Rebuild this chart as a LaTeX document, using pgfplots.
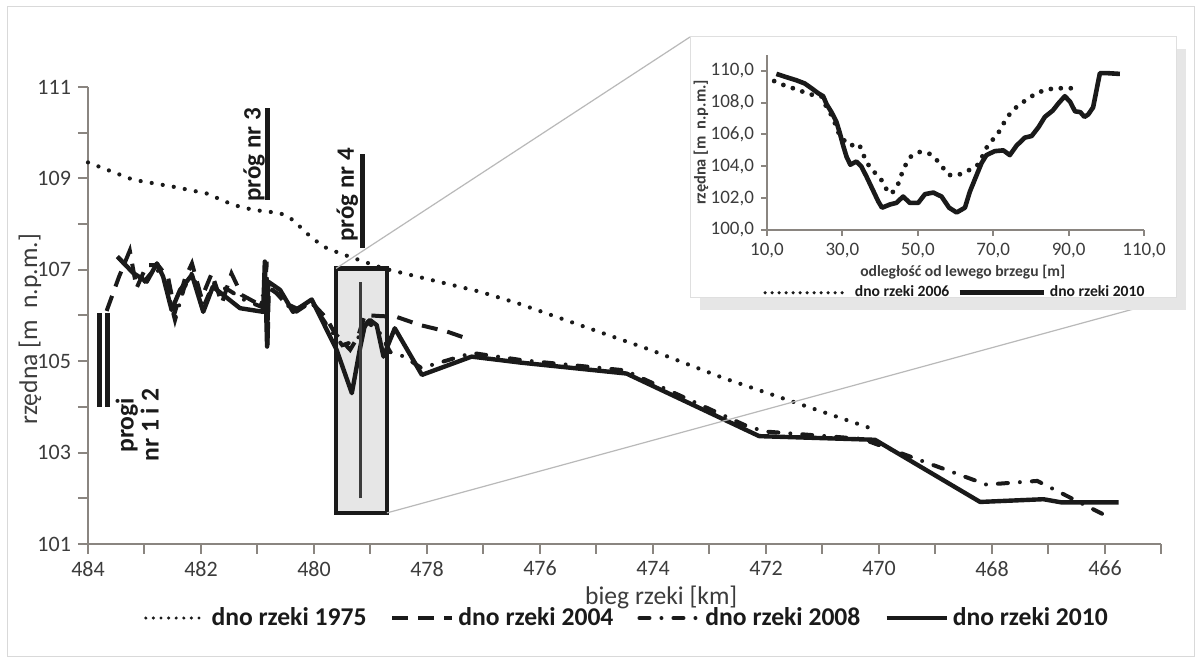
\documentclass[border=0pt]{standalone}
\usepackage{fontspec}
\setmainfont{Carlito}
\usepackage{pgfplots}
\pgfplotsset{compat=1.18}

\definecolor{axgray}{HTML}{8A8580}
\definecolor{txtgray}{HTML}{3C3C3C}
\definecolor{ink}{HTML}{1A1A1A}
\definecolor{boxfill}{HTML}{E6E6E6}

\pgfplotsset{
  s1975/.style={ink, line width=2.1pt, line cap=round, dash pattern=on 0pt off 5.6pt},
  s2004/.style={ink, line width=2pt, dash pattern=on 8pt off 5pt},
  s2008/.style={ink, line width=2pt, line cap=round, dash pattern=on 5pt off 6pt on 0pt off 6pt},
  s2010/.style={ink, line width=2.2pt, line join=round},
}

\begin{document}
\begin{tikzpicture}
\fill[white] (0,0) rectangle (600.5pt,332pt);
\draw[gray!30, line width=0.5pt] (3.5pt,3.5pt) rectangle (597pt,328.5pt);

% main profile
\begin{axis}[
  at={(44pt,60pt)}, anchor=south west,
  scale only axis, width=536.75pt, height=228.5pt,
  x dir=reverse, xmin=465, xmax=484, ymin=101, ymax=111,
  axis x line*=bottom, axis y line*=left,
  axis line style={axgray, line width=1pt, -},
  xtick={466,468,...,484}, minor xtick={465,467,...,483},
  ytick={101,103,...,111}, minor ytick={102,104,...,110},
  tick align=outside, major tick length=5pt, minor tick length=5pt,
  tick style={axgray, line width=1pt},
  /pgf/number format/assume math mode=true,
  tick label style={font=\fontsize{11}{12}\selectfont, text=txtgray},
  xlabel={bieg rzeki [km]},
  xlabel style={at={(axis description cs:0.534,-0.116)}, anchor=center,
                font=\fontsize{12.8}{14}\selectfont, text=txtgray},
  ylabel={rzędna [m\ \ n.p.m.]},
  ylabel style={at={(axis description cs:-0.054,0.47)}, anchor=center,
                font=\fontsize{12.8}{14}\selectfont, text=txtgray},
  legend style={at={(axis description cs:0.503,-0.162)}, anchor=center,
                draw=none, fill=none, legend columns=4,
                font=\bfseries\fontsize{12.8}{14}\selectfont, text=ink,
                /tikz/every even column/.append style={column sep=10pt}},
  legend image code/.code={\draw[#1] (0pt,0pt) -- (30pt,0pt);},
  clip=false,
]
% box around the cross-section site
\addplot[forget plot, fill=boxfill, draw=none] coordinates {
  (479.61,101.68) (478.71,101.68) (478.71,107.03) (479.61,107.03)} -- cycle;

% weirs
\addplot[forget plot, ink, line width=2.4pt] coordinates {(483.79,104.0) (483.79,106.05)};
\addplot[forget plot, ink, line width=2.4pt] coordinates {(483.65,104.0) (483.65,106.05)};
\addplot[forget plot, ink, line width=2.4pt] coordinates {(480.82,108.53) (480.82,110.54)};
\addplot[forget plot, ink, line width=2.4pt] coordinates {(479.14,107.48) (479.14,109.53)};

\addplot[s1975, legend image code/.code={\draw[ink, line width=1.7pt, line cap=round, dash pattern=on 0pt off 3.8pt] (0pt,0pt) -- (30pt,0pt);}] coordinates {
  (484.0,109.35) (483.2,108.97) (482.5,108.82) (481.9,108.67) (481.43,108.42)
  (481.07,108.31) (480.6,108.24) (480.37,108.09) (480.13,107.80) (479.84,107.51)
  (479.54,107.36) (479.19,107.21) (478.77,107.03) (477.06,106.52) (476.4,106.27)
  (474.05,105.25) (472.75,104.63) (470.14,103.53)};
\addlegendentry{dno rzeki 1975}

\addplot[s2004] coordinates {
  (483.67,106.10) (483.45,106.85) (483.26,107.42) (483.14,106.60) (482.96,107.10)
  (482.76,107.10) (482.58,106.82) (482.46,106.08) (482.28,106.82) (482.16,107.14)
  (481.99,106.38) (481.81,106.92) (481.63,106.27) (481.46,106.92) (481.28,106.45)
  (481.01,106.27) (480.86,106.49) (480.84,107.18) (480.82,105.32) (480.80,106.60)
  (480.66,106.49) (480.51,106.27) (480.30,106.15) (480.05,106.30) (479.78,105.94)
  (479.63,105.61) (479.36,105.25) (479.22,105.54) (479.10,106.01) (478.86,105.99)
  (478.54,105.97) (478.12,105.79) (477.65,105.65) (477.21,105.46)};
\addlegendentry{dno rzeki 2004}

\addplot[s2008] coordinates {
  (483.45,107.25) (483.22,106.95) (483.0,106.75) (482.8,107.05) (482.62,106.70)
  (482.46,105.90) (482.3,106.60) (482.15,106.95) (481.97,106.15) (481.78,106.70)
  (481.5,106.55) (481.25,106.35) (480.95,106.20) (480.8,106.65) (480.55,106.35)
  (480.35,106.05) (480.05,106.30) (479.75,105.75) (479.5,105.35) (479.25,105.45)
  (479.05,105.85) (478.85,105.65) (478.65,105.20) (478.4,105.10) (478.1,104.85)
  (477.2,105.18) (476.3,105.02) (474.5,104.80) (472.32,103.57) (472.0,103.46)
  (470.3,103.30) (468.1,102.30) (467.2,102.38) (466.0,101.63)};
\addlegendentry{dno rzeki 2008}

\addplot[s2010] coordinates {
  (483.48,107.29) (483.20,106.93) (482.96,106.74) (482.78,107.14) (482.67,106.85)
  (482.52,106.12) (482.37,106.56) (482.16,106.89) (481.96,106.08) (481.79,106.63)
  (481.31,106.16) (480.90,106.08) (480.87,107.18) (480.83,105.32) (480.81,106.74)
  (480.60,106.56) (480.37,106.08) (480.04,106.35) (479.60,105.25) (479.33,104.30)
  (479.19,105.25) (479.10,105.79) (479.01,105.90) (478.89,105.79) (478.77,105.10)
  (478.70,105.32) (478.57,105.72) (478.09,104.70) (477.21,105.10) (476.35,104.97)
  (474.47,104.73) (472.12,103.36) (470.07,103.28) (468.21,101.92) (467.09,101.98)
  (466.77,101.91) (465.76,101.91)};
\addlegendentry{dno rzeki 2010}

% cross-section line and box outline
\addplot[forget plot, ink!85, line width=1.5pt] coordinates {(479.17,102.0) (479.17,106.74)};
\addplot[forget plot, ink, line width=2.2pt] coordinates {
  (479.61,101.68) (478.71,101.68) (478.71,107.03) (479.61,107.03)} -- cycle;

\node[rotate=90, font=\bfseries\fontsize{12.5}{13}\selectfont, text=ink] at (axis cs:481.06,109.51) {próg nr 3};
\node[rotate=90, font=\bfseries\fontsize{12.5}{13}\selectfont, text=ink] at (axis cs:479.41,108.64) {próg nr 4};
\node[rotate=90, align=center, font=\bfseries\fontsize{12.8}{12.5}\selectfont, text=ink] at (axis cs:483.13,103.6) {progi\\nr 1 i 2};

\coordinate (rtl) at (axis cs:479.61,107.03);
\coordinate (rbr) at (axis cs:478.71,101.68);
\end{axis}

\draw[gray!55, line width=0.6pt] (rtl) -- (345pt,313.5pt);
\draw[gray!55, line width=0.6pt] (rbr) -- (587pt,183pt);

% inset frame
\fill[boxfill] (350pt,307.5pt) rectangle (593pt,177pt);
\filldraw[fill=white, draw=gray!25, line width=0.5pt] (345pt,313.5pt) rectangle (588pt,183pt);

% inset cross-section
\begin{axis}[
  at={(383.5pt,217pt)}, anchor=south west,
  scale only axis, width=188.5pt, height=87.6pt,
  xmin=10, xmax=110, ymin=100, ymax=111,
  axis x line*=bottom, axis y line*=left,
  axis line style={axgray, line width=1pt, -},
  xtick={10,30,...,110}, ytick={100,102,...,110},
  tick align=outside, major tick length=3pt,
  tick style={axgray, line width=1pt},
  /pgf/number format/assume math mode=true,
  /pgf/number format/.cd, fixed, fixed zerofill, precision=1, use comma, /pgfplots/.cd,
  tick label style={font=\fontsize{9.5}{10}\selectfont, text=txtgray},
  xlabel={odległość od lewego brzegu [m]},
  xlabel style={at={(axis description cs:0.519,-0.239)}, anchor=center,
                font=\bfseries\fontsize{7.8}{9}\selectfont, text=txtgray},
  ylabel={rzędna [m\ \ n.p.m.]},
  ylabel style={at={(axis description cs:-0.175,0.50)}, anchor=center,
                font=\bfseries\fontsize{8.2}{9}\selectfont, text=txtgray},
  legend style={at={(axis description cs:0.501,-0.358)}, anchor=center,
                draw=none, fill=none, legend columns=2,
                font=\bfseries\fontsize{7.8}{9}\selectfont, text=ink,
                /tikz/every even column/.append style={column sep=2pt}},
  legend image code/.code={\draw[#1] (0pt,0pt) -- (42pt,0pt);},
  clip=false,
]
\addplot[ink, line width=2.4pt, line cap=round, dash pattern=on 0pt off 5pt,
  legend image code/.code={\draw[ink, line width=1.8pt, line cap=round, dash pattern=on 0pt off 3.5pt] (0pt,0pt) -- (42pt,0pt);}]
  coordinates {
  (11.9,109.35) (14.4,109.1) (16.9,108.9) (19.3,108.7) (21.8,108.5) (24.4,108.4)
  (25.8,107.7) (27.1,107.2) (28.2,106.6) (29.3,105.9) (31.9,105.3) (34.4,105.4)
  (35.3,104.9) (36.2,104.35) (37.7,103.8) (39.5,103.4) (41.1,102.9) (42.1,102.3)
  (43.5,102.4) (44.8,102.9) (45.7,103.5) (46.8,104.1) (48.1,104.6) (50.4,104.9)
  (53.0,104.8) (55.0,104.4) (56.7,103.9) (58.3,103.45) (60.7,103.45) (63.1,103.7)
  (65.6,104.0) (66.9,104.5) (67.8,105.0) (69.1,105.5) (70.9,105.9) (72.2,106.45)
  (73.5,107.0) (75.1,107.5) (77.1,107.9) (79.3,108.25) (81.5,108.6) (84.0,108.8)
  (86.4,108.9) (89.0,108.9) (91.7,108.9)};
\addlegendentry{dno rzeki 2006}
\addplot[ink, line width=2.3pt, line join=round] coordinates {
  (12.5,109.8) (15.1,109.6) (17.8,109.4) (20.0,109.2) (21.8,108.9) (23.5,108.6)
  (24.9,108.4) (25.8,107.9) (27.1,107.4) (28.4,106.8) (29.3,106.1) (30.2,105.3)
  (31.1,104.6) (32.1,104.1) (33.7,104.3) (35.0,104.0) (36.4,103.35) (38.1,102.5)
  (39.5,101.8) (40.5,101.4) (42.6,101.6) (44.3,101.7) (46.1,102.1) (47.9,101.7)
  (50.1,101.7) (51.9,102.25) (54.1,102.35) (56.3,102.1) (58.3,101.4) (60.3,101.1)
  (62.5,101.4) (63.8,102.4) (65.6,103.45) (66.9,104.2) (68.2,104.7) (70.4,104.95)
  (72.7,105.0) (74.4,104.7) (76.2,105.3) (78.4,105.8) (80.2,105.9) (82.0,106.45)
  (83.7,107.1) (85.8,107.5) (87.3,107.95) (89.0,108.4) (90.4,108.05) (91.7,107.45)
  (93.1,107.4) (94.2,107.1) (95.2,107.25) (96.5,107.7) (98.3,109.85) (100.1,109.85)
  (103.6,109.8)};
\addlegendentry{dno rzeki 2010}
\end{axis}
\end{tikzpicture}
\end{document}
